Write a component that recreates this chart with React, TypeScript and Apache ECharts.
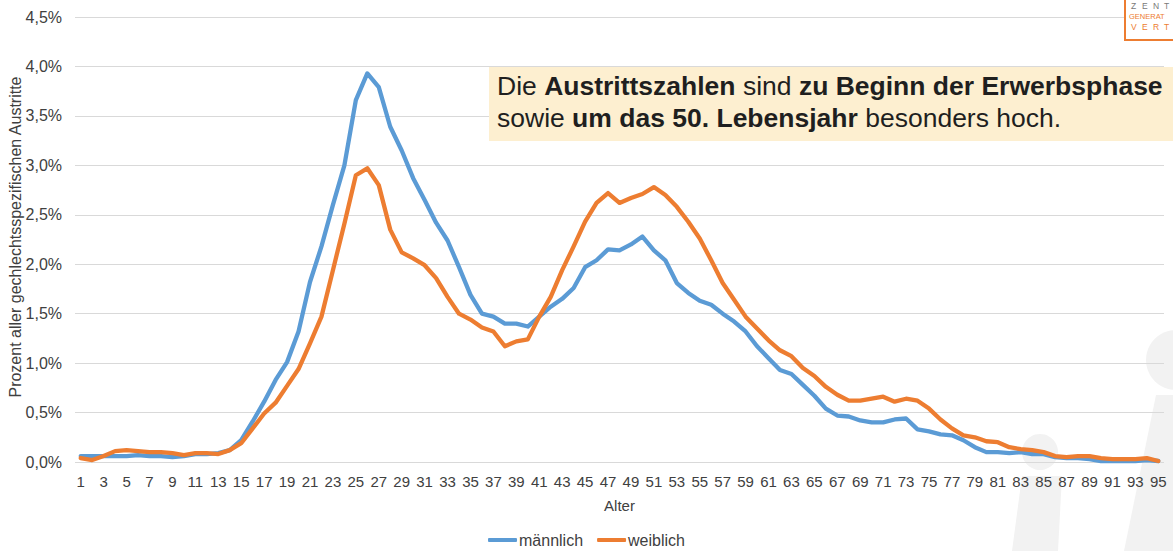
import React, { useEffect, useRef } from "react";
import * as echarts from "echarts";

const ages: string[] = Array.from({ length: 95 }, (_, i) => String(i + 1));

const maennlich: number[] = [
  0.06, 0.06, 0.06, 0.06, 0.06, 0.07, 0.06, 0.06, 0.05, 0.06,
  0.08, 0.08, 0.09, 0.12, 0.22, 0.41, 0.61, 0.83, 1.01, 1.32,
  1.82, 2.18, 2.60, 3.00, 3.66, 3.93, 3.79, 3.39, 3.15, 2.87,
  2.65, 2.42, 2.24, 1.97, 1.69, 1.50, 1.47, 1.40, 1.40, 1.37,
  1.47, 1.57, 1.65, 1.76, 1.97, 2.04, 2.15, 2.14, 2.20, 2.28,
  2.14, 2.04, 1.81, 1.71, 1.63, 1.59, 1.50, 1.42, 1.32, 1.17,
  1.05, 0.93, 0.89, 0.78, 0.67, 0.54, 0.47, 0.46, 0.42, 0.40,
  0.40, 0.43, 0.44, 0.33, 0.31, 0.28, 0.27, 0.22, 0.15, 0.10,
  0.10, 0.09, 0.10, 0.08, 0.08, 0.05, 0.04, 0.04, 0.03, 0.01,
  0.01, 0.01, 0.01, 0.02, 0.01,
];

const weiblich: number[] = [
  0.04, 0.02, 0.06, 0.11, 0.12, 0.11, 0.10, 0.10, 0.09, 0.07,
  0.09, 0.09, 0.08, 0.12, 0.19, 0.34, 0.49, 0.60, 0.77, 0.94,
  1.20, 1.47, 1.94, 2.41, 2.90, 2.97, 2.80, 2.35, 2.12, 2.06,
  1.99, 1.86, 1.67, 1.50, 1.44, 1.36, 1.32, 1.17, 1.22, 1.24,
  1.47, 1.67, 1.94, 2.18, 2.43, 2.62, 2.72, 2.62, 2.67, 2.71,
  2.78, 2.70, 2.58, 2.43, 2.26, 2.04, 1.81, 1.64, 1.47, 1.35,
  1.23, 1.13, 1.07, 0.95, 0.87, 0.76, 0.68, 0.62, 0.62, 0.64,
  0.66, 0.61, 0.64, 0.62, 0.54, 0.43, 0.34, 0.27, 0.25, 0.21,
  0.20, 0.15, 0.13, 0.12, 0.10, 0.06, 0.05, 0.06, 0.06, 0.04,
  0.03, 0.03, 0.03, 0.04, 0.01,
];

const seriesNames: string[] = ["männlich", "weiblich"];
const xAxisTitle = "Alter";
const yAxisTitle = "Prozent aller gechlechtsspezifischen Austritte";
const noteLine1 = "Die {b|Austrittszahlen} sind {b|zu Beginn der Erwerbsphase}";
const noteLine2 = "sowie {b|um das 50. Lebensjahr} besonders hoch.";
const logoRow1: string[] = ["Z", "E", "N", "T"];
const logoRow2 = "GENERAT";
const logoRow3: string[] = ["V", "E", "R", "T"];

const FONT = "'Liberation Sans', Arial, Helvetica, sans-serif";
const BLUE = "#5B9BD5";
const ORANGE = "#ED7D31";
const WM = "#f2f2f2";
const TXT = "#404040";

export default function App() {
  const ref = useRef<HTMLDivElement>(null);
  useEffect(() => {
    if (!ref.current) return;
    const chart = echarts.init(ref.current, undefined, { renderer: "svg" });

    const logoLetters: any[] = [];
    logoRow1.forEach((ch, i) => {
      logoLetters.push({
        type: "text", z: 11, x: 1131 + i * 11, y: 1,
        style: { text: ch, fontSize: 8.5, fontFamily: FONT, fill: "#7a7a7a" },
      });
    });
    logoLetters.push({
      type: "text", z: 11, x: 1129, y: 12,
      style: { text: logoRow2, fontSize: 7.5, fontFamily: FONT, fill: ORANGE },
    });
    logoRow3.forEach((ch, i) => {
      logoLetters.push({
        type: "text", z: 11, x: 1131 + i * 11, y: 22,
        style: { text: ch, fontSize: 8.5, fontFamily: FONT, fill: ORANGE },
      });
    });

    chart.setOption({
      animation: false,
      backgroundColor: "#ffffff",
      textStyle: { fontFamily: FONT },
      grid: { left: 75, right: 9, top: 17, bottom: 89, containLabel: false, outerBoundsMode: "none" },
      legend: {
        data: seriesNames,
        left: "center",
        top: 532,
        padding: 0,
        icon: "roundRect",
        itemWidth: 29,
        itemHeight: 4,
        itemGap: 14,
        textStyle: { fontSize: 16, color: TXT, fontFamily: FONT, padding: [0, 0, 0, -3] },
      },
      xAxis: {
        type: "category",
        data: ages,
        boundaryGap: true,
        name: xAxisTitle,
        nameLocation: "middle",
        nameGap: 36,
        nameTextStyle: { fontSize: 15, color: TXT, fontFamily: FONT },
        axisLine: { show: false },
        axisTick: { show: false },
        axisLabel: { interval: 1, fontSize: 15, color: TXT, margin: 12, fontFamily: FONT },
        splitLine: { show: false },
      },
      yAxis: {
        type: "value",
        min: 0,
        max: 4.5,
        interval: 0.5,
        axisLine: { show: false },
        axisTick: { show: false },
        axisLabel: {
          fontSize: 16,
          color: TXT,
          margin: 13,
          fontFamily: FONT,
          formatter: (v: number) => v.toFixed(1).replace(".", ",") + "%",
        },
        splitLine: { show: true, lineStyle: { color: "#d9d9d9", width: 1 } },
      },
      graphic: [
        { type: "circle", z: -1, silent: true, shape: { cx: 1040, cy: 452, r: 18 }, style: { fill: WM } },
        { type: "polygon", z: -1, silent: true, shape: { points: [[1022, 476], [1062, 476], [1058, 551], [1012, 551]] }, style: { fill: WM } },
        { type: "circle", z: -1, silent: true, shape: { cx: 1176, cy: 360, r: 30 }, style: { fill: WM } },
        { type: "polygon", z: -1, silent: true, shape: { points: [[1156, 395], [1173, 395], [1173, 551], [1124, 551]] }, style: { fill: WM } },
        {
          type: "text",
          z: 5,
          x: 15,
          y: 237,
          rotation: Math.PI / 2,
          style: {
            text: yAxisTitle,
            fontSize: 16,
            fontFamily: FONT,
            fill: TXT,
            align: "center",
            verticalAlign: "middle",
          },
        },
        {
          type: "rect",
          z: 10,
          shape: { x: 489, y: 67, width: 690, height: 74 },
          style: { fill: "#FDEFD0" },
        },
        {
          type: "text",
          z: 11,
          x: 497,
          y: 70,
          style: {
            text: noteLine1 + "\n" + noteLine2,
            fontSize: 26.5,
            fontFamily: FONT,
            fill: "#1f1f1f",
            lineHeight: 32,
            rich: {
              b: { fontSize: 26.5, fontFamily: FONT, fontWeight: "bold", fill: "#1f1f1f", lineHeight: 32 },
            },
          },
        },
        {
          type: "rect",
          z: 10,
          shape: { x: 1125, y: -3, width: 60, height: 43 },
          style: { fill: "#ffffff", stroke: ORANGE, lineWidth: 2 },
        },
        ...logoLetters,
      ],
      series: [
        {
          name: seriesNames[0],
          type: "line",
          data: maennlich,
          symbol: "none",
          smooth: false,
          itemStyle: { color: BLUE },
          lineStyle: { color: BLUE, width: 4.3, cap: "round", join: "round" },
        },
        {
          name: seriesNames[1],
          type: "line",
          data: weiblich,
          symbol: "none",
          smooth: false,
          itemStyle: { color: ORANGE },
          lineStyle: { color: ORANGE, width: 4.3, cap: "round", join: "round" },
        },
      ],
    });
    return () => chart.dispose();
  }, []);
  return (
    <div
      ref={ref}
      style={{ position: "absolute", left: 0, top: 0, width: 1173, height: 551 }}
    />
  );
}
